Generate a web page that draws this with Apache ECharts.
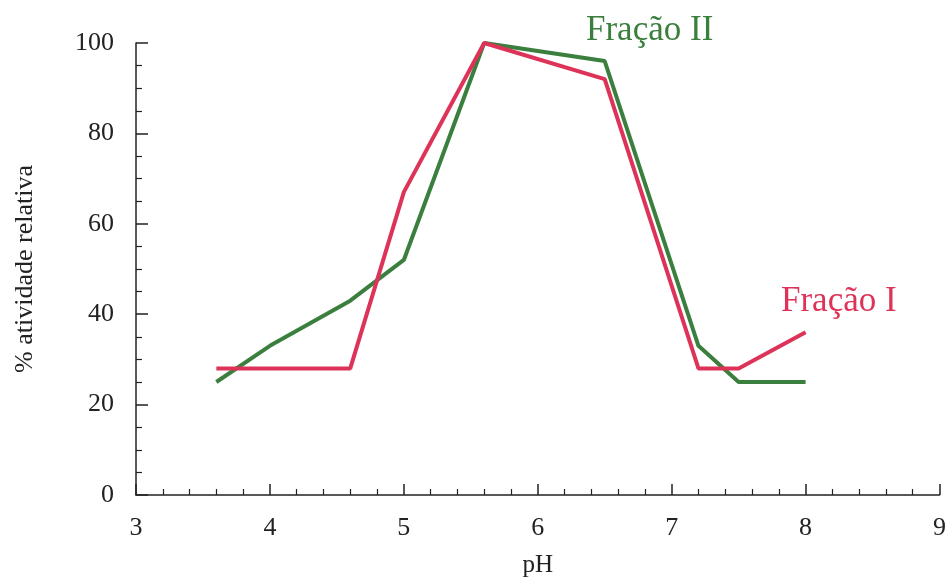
<!DOCTYPE html>
<html>
<head>
<meta charset="utf-8">
<script src="https://cdn.jsdelivr.net/npm/echarts@6/dist/echarts.min.js"></script>
<style>
html,body{margin:0;padding:0;background:#fff;}
#c{width:949px;height:583px;}
</style>
</head>
<body>
<div id="c"></div>
<script>
const phFracaoI = [3.6, 4.6, 5.0, 5.6, 6.5, 7.2, 7.5, 8.0];
const fracaoI = [28, 28, 67, 100, 92, 28, 28, 36];
const phFracaoII = [3.6, 4.0, 4.6, 5.0, 5.6, 6.5, 7.2, 7.5, 8.0];
const fracaoII = [25, 33, 43, 52, 100, 96, 33, 25, 25];
const xTicks = [3, 4, 5, 6, 7, 8, 9];
const yTicks = [0, 20, 40, 60, 80, 100];

const RED = '#de3358';
const GREEN = '#3a7f3e';
const FONT = '"Liberation Serif", "Times New Roman", serif';

const chart = echarts.init(document.getElementById('c'));
chart.setOption({
  animation: false,
  backgroundColor: '#fff',
  grid: {left: 136, right: 9, top: 43, bottom: 82},
  xAxis: {
    type: 'value', min: xTicks[0], max: xTicks[xTicks.length - 1], interval: 1,
    name: 'pH', nameLocation: 'middle', nameGap: 58,
    nameTextStyle: {fontFamily: FONT, fontSize: 25, color: '#222'},
    axisLine: {lineStyle: {color: '#222', width: 1.5}},
    axisTick: {inside: true, length: 11, lineStyle: {color: '#222', width: 1.5}},
    minorTick: {show: true, splitNumber: 5, length: 6, lineStyle: {color: '#222', width: 1.2}},
    axisLabel: {fontFamily: FONT, fontSize: 26, color: '#222', margin: 20},
    splitLine: {show: false}
  },
  yAxis: {
    type: 'value', min: yTicks[0], max: yTicks[yTicks.length - 1], interval: 20,
    name: '% atividade relativa', nameLocation: 'middle', nameGap: 98,
    nameTextStyle: {fontFamily: FONT, fontSize: 26, color: '#222'},
    axisLine: {show: true, lineStyle: {color: '#222', width: 1.5}},
    axisTick: {show: true, inside: true, length: 12, lineStyle: {color: '#222', width: 1.5}},
    minorTick: {show: true, splitNumber: 4, length: 6, lineStyle: {color: '#222', width: 1.2}},
    axisLabel: {fontFamily: FONT, fontSize: 26, color: '#222', margin: 22},
    splitLine: {show: false}
  },
  series: [
    {
      name: 'Fração I', type: 'line', symbol: 'none',
      data: phFracaoI.map((x, i) => [x, fracaoI[i]]),
      lineStyle: {color: RED, width: 4}, z: 3
    },
    {
      name: 'Fração II', type: 'line', symbol: 'none',
      data: phFracaoII.map((x, i) => [x, fracaoII[i]]),
      lineStyle: {color: GREEN, width: 4}, z: 2
    }
  ],
  graphic: [
    {type: 'text', left: 586, top: 13, style: {text: 'Fração II', fill: GREEN, font: '35px ' + FONT}},
    {type: 'text', left: 781, top: 284, style: {text: 'Fração I', fill: RED, font: '35px ' + FONT}}
  ]
});
</script>
</body>
</html>
